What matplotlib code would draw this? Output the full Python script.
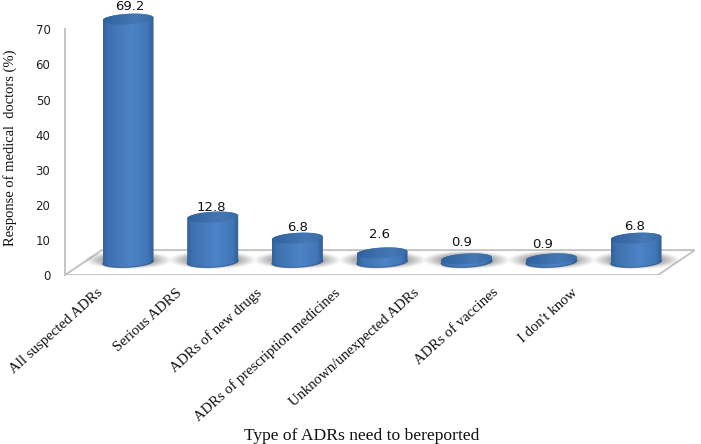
import numpy as np
import matplotlib
matplotlib.use("Agg")
import matplotlib.pyplot as plt
from matplotlib.colors import LinearSegmentedColormap
from matplotlib.patches import Polygon

# data
categories = ["All suspected ADRs", "Serious ADRS", "ADRs of new drugs",
              "ADRs of prescription medicines", "Unknown/unexpected ADRs",
              "ADRs of vaccines", "I don't know"]
values = [69.2, 12.8, 6.8, 2.6, 0.9, 0.9, 6.8]
value_labels = ["69.2", "12.8", "6.8", "2.6", "0.9", "0.9", "6.8"]
y_ticks = [0, 10, 20, 30, 40, 50, 60, 70]


def ellipse_xy(cx, cy, a, b, tilt, t):
    return cx + a * np.cos(t), cy + b * np.sin(t) + tilt * np.cos(t)


def draw_grad(ax, path_xy, extent, cmap, z):
    grad = np.linspace(0, 1, 128).reshape(1, -1)
    im = ax.imshow(grad, extent=extent, aspect="auto", cmap=cmap, vmin=0, vmax=1, zorder=z)
    clip = Polygon(path_xy, closed=True, transform=ax.transData, fc="none", ec="none")
    ax.add_patch(clip)
    im.set_clip_path(clip)


def main():
    fig = plt.figure(figsize=(7.01, 4.44), dpi=100)
    px_unit = 3.51
    ymax = 78
    ax = fig.add_axes([65 / 701, (444 - 275) / 444, 630 / 701, ymax * px_unit / 444])

    unit = 84.67
    xl = -63 / unit
    xr = xl + 593 / unit
    xmax = xl + 630 / unit
    depth_x = 37 / unit
    depth_y = 7.1
    floor = 3.7  # bars stand on the middle of the floor
    a = 25.5 / unit
    b = 5.3 / px_unit
    tilt = 1.4 / px_unit

    # floor
    ax.add_patch(Polygon([(xl, 0), (xl + depth_x, depth_y), (xr + depth_x, depth_y), (xr, 0)],
                         closed=True, fc="white", ec="#c4c4c4", lw=1.4, zorder=1))

    body = LinearSegmentedColormap.from_list("body", [(0, "#34639c"), (0.1, "#3d70ae"),
                                                      (0.55, "#4d84c8"), (0.88, "#4177b8"),
                                                      (1, "#2f5c94")])
    top = LinearSegmentedColormap.from_list("top", ["#30619c", "#3b6ea9", "#4477b3", "#3a6ca7"])

    # soft shadow under the bars
    xs = np.linspace(-1, 1, 80)
    ys = np.linspace(-1, 1, 30)
    gx, gy = np.meshgrid(xs, ys)
    shade = np.zeros(gx.shape + (4,))
    shade[..., :3] = 0.35
    shade[..., 3] = np.clip(1.15 - gx ** 2 - gy ** 2, 0, 1) ** 1.3 * 0.7

    t_front = np.linspace(np.pi, 2 * np.pi, 60)
    t_back = np.linspace(0, np.pi, 60)
    t_full = np.linspace(0, 2 * np.pi, 120)

    for i, v in enumerate(values):
        ax.imshow(shade, extent=[i - 0.5, i + 0.5, floor - 2.0, floor + 3.0],
                  aspect="auto", zorder=2, interpolation="bilinear")
        fx, fy = ellipse_xy(i, floor, a, b, tilt, t_front)
        bx, by = ellipse_xy(i, floor + v, a, b, tilt, t_back)
        body_xy = np.r_[np.c_[fx, fy], np.c_[bx, by]]
        draw_grad(ax, body_xy, [i - a, i + a, floor - b - 1, floor + v + b + 1], body, 3)
        ax.plot(fx, fy, color="#24497a", lw=0.9, alpha=0.6, zorder=3.5)
        tx, ty = ellipse_xy(i, floor + v, a, b, tilt, t_full)
        draw_grad(ax, np.c_[tx, ty], [i - a, i + a, floor + v - b - 1, floor + v + b + 1], top, 4)

    # value labels
    label_dx = [2, -1, 0, -3, -5, -9, -1]
    label_dy = [13, 10, 11, 18, 16, 14, 12]
    for i, v in enumerate(values):
        ax.annotate(value_labels[i], (i, floor + v), xytext=(label_dx[i] * 0.72, label_dy[i] * 0.72),
                    textcoords="offset points", ha="center", va="center",
                    fontsize=9.5, color="#111111", zorder=6, annotation_clip=False)

    ax.set_xlim(xl, xmax)
    ax.set_ylim(0, ymax)
    ax.patch.set_visible(False)

    for s in ["top", "right"]:
        ax.spines[s].set_visible(False)
    ax.spines["left"].set_color("#c4c4c4")
    ax.spines["left"].set_linewidth(1.4)
    ax.spines["left"].set_bounds(0, 70)
    ax.spines["bottom"].set_visible(False)

    ax.set_yticks(y_ticks)
    ax.tick_params(axis="y", length=0, pad=10.5, labelsize=8.5, labelcolor="#222222")

    # category labels run a bit tighter than the bars
    ax.set_xticks([-31 / unit + i * 79 / unit for i in range(len(categories))])
    ax.set_xticklabels(categories, rotation=42, ha="right", va="top", rotation_mode="anchor",
                       family="Liberation Serif", fontsize=10.6, color="#111111")
    ax.tick_params(axis="x", length=0, pad=8)

    ax.set_ylabel("Response of medical  doctors (%)", family="Liberation Serif", fontsize=10.5,
                  color="#111111", va="center")
    ax.yaxis.set_label_coords(-55 / 630, 127 / (ymax * px_unit))
    ax.set_xlabel("Type of ADRs need to bereported", family="Liberation Serif", fontsize=12.6,
                  color="#111111", va="center")
    ax.xaxis.set_label_coords(297 / 630, -161 / (ymax * px_unit))

    fig.savefig("out.png", dpi=100)


if __name__ == "__main__":
    main()
